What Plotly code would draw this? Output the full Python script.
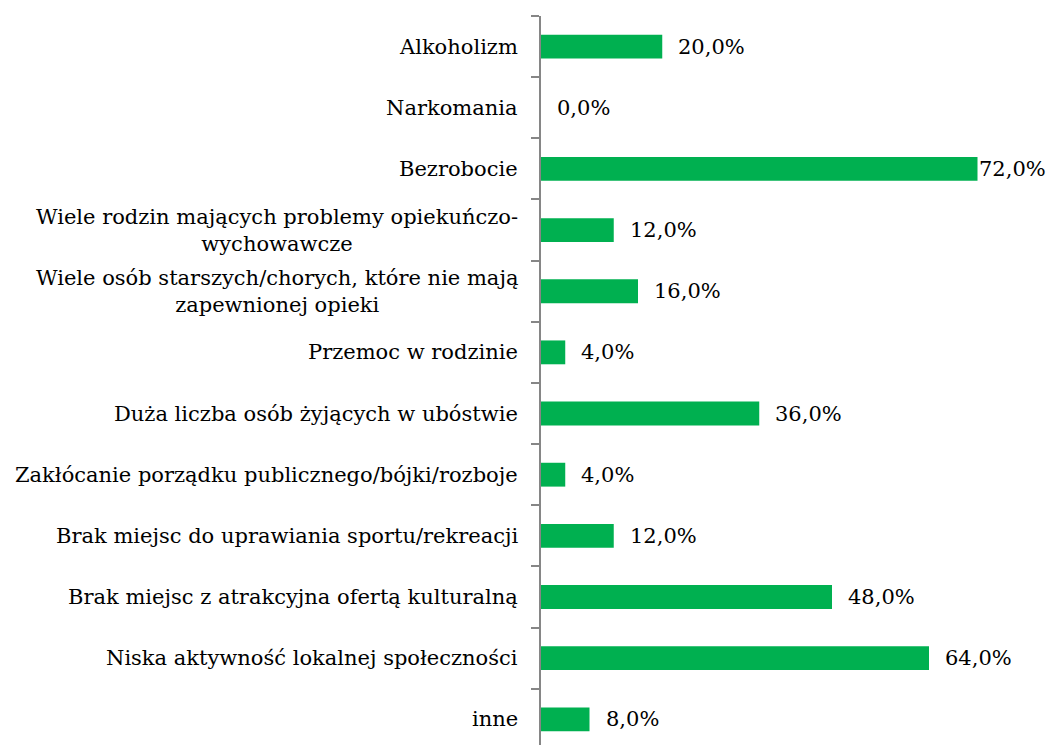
import plotly.graph_objects as go

categories = [
    "Alkoholizm",
    "Narkomania",
    "Bezrobocie",
    "Wiele rodzin mających problemy opiekuńczo-<br>wychowawcze",
    "Wiele osób starszych/chorych, które nie mają<br>zapewnionej opieki",
    "Przemoc w rodzinie",
    "Duża liczba osób żyjących w ubóstwie",
    "Zakłócanie porządku publicznego/bójki/rozboje",
    "Brak miejsc do uprawiania sportu/rekreacji",
    "Brak miejsc z atrakcyjna ofertą kulturalną",
    "Niska aktywność lokalnej społeczności",
    "inne",
]
values = [20.0, 0.0, 72.0, 12.0, 16.0, 4.0, 36.0, 4.0, 12.0, 48.0, 64.0, 8.0]
value_labels = [f"{v:.1f}".replace(".", ",") + "%" for v in values]

FONT = "DejaVu Serif"
FSIZE = 21
GREEN = "#00B050"

pos = list(range(len(categories)))
vmax = max(values)

fig = go.Figure()
fig.add_trace(go.Bar(
    x=values, y=pos, orientation="h",
    marker=dict(color=GREEN, line=dict(width=0)),
    width=0.39, hoverinfo="skip",
))

annotations = []
for i, (c, v, lab) in enumerate(zip(categories, values, value_labels)):
    annotations.append(dict(
        x=0, xref="paper", y=i, yref="y", text=c, showarrow=False,
        xanchor="right", yanchor="middle", align="center", xshift=-21,
        font=dict(family=FONT, size=FSIZE, color="#000000"),
    ))
    annotations.append(dict(
        x=v, xref="x", y=i, yref="y", text=lab, showarrow=False,
        xanchor="left", yanchor="middle", xshift=(-1 if v == vmax else 14),
        font=dict(family=FONT, size=FSIZE, color="#000000"),
    ))

fig.update_layout(
    width=1048, height=745,
    margin=dict(l=541, r=22, t=16, b=0),
    paper_bgcolor="white", plot_bgcolor="white",
    showlegend=False,
    font=dict(family=FONT, size=FSIZE),
    annotations=annotations,
    xaxis=dict(range=[0, 80], showgrid=False, zeroline=False,
               showticklabels=False, showline=False, ticks=""),
    yaxis=dict(range=[11.42, -0.5], tickmode="array",
               tickvals=[p - 0.5 for p in pos], ticktext=[""] * len(pos),
               showgrid=False, zeroline=False,
               showline=True, linecolor="#868686", linewidth=1.5,
               ticks="outside", ticklen=8, tickcolor="#868686", tickwidth=1.5),
)

fig.write_html(
    "out.html",
    config={"displayModeBar": False},
    post_script="document.body.style.margin='0';document.body.style.overflow='hidden';",
)
